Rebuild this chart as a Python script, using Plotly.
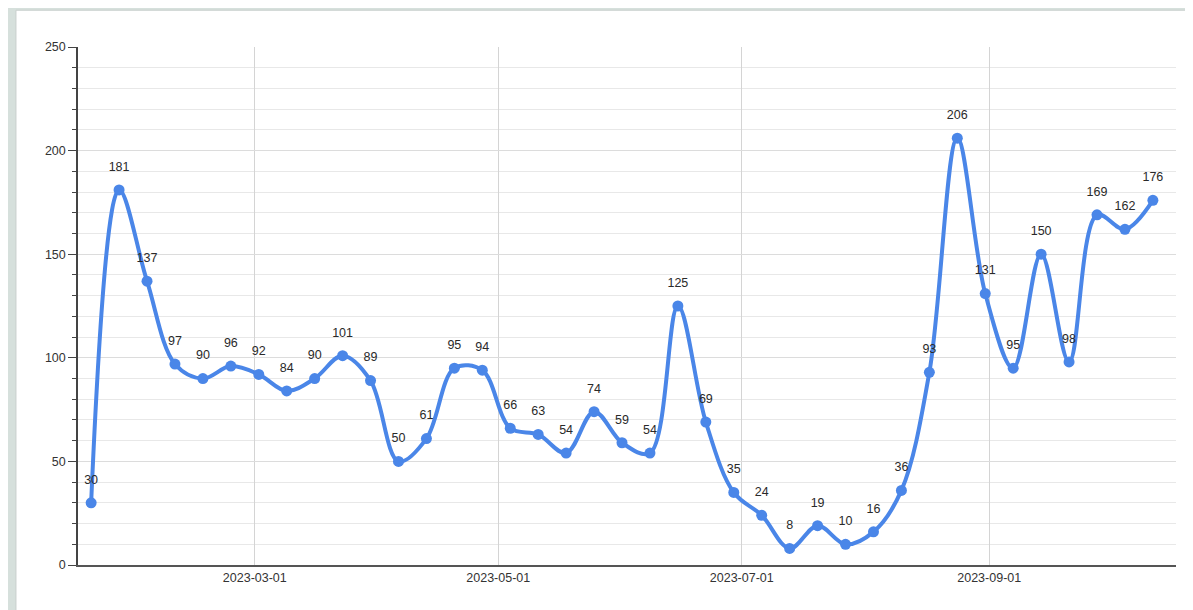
import plotly.graph_objects as go
import pandas as pd

# weekly values, starting 2023-01-19
start_date = '2023-01-19'
values = [30, 181, 137, 97, 90, 96, 92, 84, 90, 101, 89, 50, 61, 95, 94, 66, 63, 54, 74, 59,
          54, 125, 69, 35, 24, 8, 19, 10, 16, 36, 93, 206, 131, 95, 150, 98, 169, 162, 176]
dates = pd.date_range(start_date, periods=len(values), freq='7D')

x_ticks = ['2023-03-01', '2023-05-01', '2023-07-01', '2023-09-01']

fig = go.Figure()

fig.add_trace(go.Scatter(
    x=dates, y=values,
    mode='lines+markers',
    line=dict(color='#4a86e8', width=4, shape='spline', smoothing=1.0),
    marker=dict(color='#4a86e8', size=11),
    showlegend=False, hoverinfo='x+y',
))

# labels sit a bit higher than the marker, so use a bigger invisible marker for them
fig.add_trace(go.Scatter(
    x=dates, y=values,
    mode='markers+text',
    marker=dict(size=24, opacity=0),
    text=[str(v) for v in values],
    textposition='top center',
    textfont=dict(family='Liberation Sans, Arial', size=12.5, color='#2a2a2a'),
    cliponaxis=False,
    showlegend=False, hoverinfo='skip',
))

# screenshot frame: greenish page with white panel
fig.add_shape(type='rect', xref='paper', yref='paper',
              x0=-0.0565, x1=1.02, y0=-0.1, y1=1.071,
              fillcolor='white', line=dict(color='#c8cfcc', width=1), layer='below')

fig.update_layout(
    width=1185, height=602,
    margin=dict(l=70, r=17, t=39, b=45),
    paper_bgcolor='#d6e0dc',
    plot_bgcolor='white',
    font=dict(family='Liberation Sans, Arial', size=12.5, color='#333333'),
    xaxis=dict(
        range=['2023-01-15 17:00', '2023-10-17 19:00'],
        tickvals=x_ticks, ticktext=x_ticks,
        showgrid=True, gridcolor='#d4d4d4', gridwidth=1,
        showline=True, linecolor='#555555', linewidth=1.5,
        ticks='', zeroline=False,
    ),
    yaxis=dict(
        range=[0, 250], tick0=0, dtick=50,
        showgrid=True, gridcolor='#dcdcdc', gridwidth=1,
        showline=True, linecolor='#444444', linewidth=1.5,
        ticks='outside', ticklen=8, tickcolor='#444444', tickwidth=1.2,
        minor=dict(dtick=10, showgrid=True, gridcolor='#e8e8e8',
                   ticks='outside', ticklen=4, tickcolor='#444444'),
        zeroline=False,
    ),
)

fig.write_html("out.html")
